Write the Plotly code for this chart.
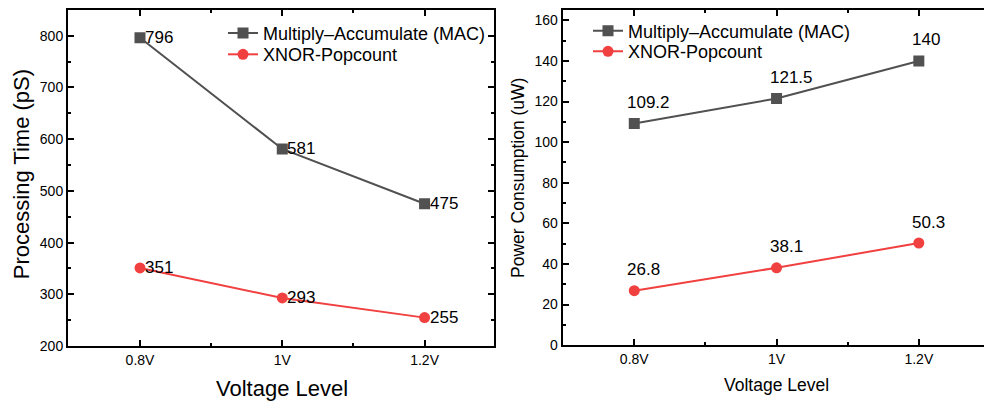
import plotly.graph_objects as go

# ---------------- data ----------------
voltage_levels = ["0.8V", "1V", "1.2V"]
series_names = ["Multiply\u2013Accumulate (MAC)", "XNOR-Popcount"]
time_mac = [796, 581, 475]
time_xnor = [351, 293, 255]
power_mac = [109.2, 121.5, 140]
power_xnor = [26.8, 38.1, 50.3]
time_ticks = [200, 300, 400, 500, 600, 700, 800]
power_ticks = [0, 20, 40, 60, 80, 100, 120, 140, 160]

# ---------------- style ----------------
W, H = 984, 408
GRAY = "#515151"
RED = "#F14040"
FONT = "Liberation Sans, Arial, sans-serif"

xpos = list(range(len(voltage_levels)))
minor_x = [i + 0.5 for i in xpos[:-1]]


def px(x):
    return x / W


def py(y):
    return 1 - y / H


fig = go.Figure()

# left panel
fig.add_trace(go.Scatter(x=xpos, y=time_mac, mode="lines+markers", name=series_names[0],
                         line=dict(color=GRAY, width=2),
                         marker=dict(symbol="square", size=11, color=GRAY),
                         xaxis="x", yaxis="y", legend="legend"))
fig.add_trace(go.Scatter(x=xpos, y=time_xnor, mode="lines+markers", name=series_names[1],
                         line=dict(color=RED, width=2),
                         marker=dict(symbol="circle", size=11, color=RED),
                         xaxis="x", yaxis="y", legend="legend2"))
# right panel
fig.add_trace(go.Scatter(x=xpos, y=power_mac, mode="lines+markers", name=series_names[0],
                         line=dict(color=GRAY, width=2),
                         marker=dict(symbol="square", size=11, color=GRAY),
                         xaxis="x2", yaxis="y2", legend="legend3"))
fig.add_trace(go.Scatter(x=xpos, y=power_xnor, mode="lines+markers", name=series_names[1],
                         line=dict(color=RED, width=2),
                         marker=dict(symbol="circle", size=11, color=RED),
                         xaxis="x2", yaxis="y2", legend="legend4"))

annotations = []
# data labels, left panel: right of marker
for vals in (time_mac, time_xnor):
    for i, v in zip(xpos, vals):
        annotations.append(dict(x=i, y=v, xref="x", yref="y", text=f"{v:g}",
                                showarrow=False, xanchor="left", yanchor="middle",
                                xshift=3, font=dict(size=17, color="black", family=FONT)))
# data labels, right panel: above marker
for vals in (power_mac, power_xnor):
    for i, v in zip(xpos, vals):
        annotations.append(dict(x=i, y=v, xref="x2", yref="y2", text=f"{v:g}",
                                showarrow=False, xanchor="left", yanchor="middle",
                                xshift=-9, yshift=21, font=dict(size=17, color="black", family=FONT)))

# axis titles
annotations += [
    dict(x=px(21.7), y=py(178), xref="paper", yref="paper", text="Processing Time (pS)",
         textangle=-90, showarrow=False, xanchor="center", yanchor="middle",
         font=dict(size=22, color="black", family=FONT)),
    dict(x=px(281.5), y=py(396), xref="paper", yref="paper", text="Voltage Level",
         showarrow=False, xanchor="center", yanchor="middle",
         font=dict(size=22, color="black", family=FONT)),
    dict(x=px(518), y=py(181.5), xref="paper", yref="paper", text="Power Consumption (uW)",
         textangle=-90, showarrow=False, xanchor="center", yanchor="middle",
         font=dict(size=17.5, color="black", family=FONT)),
    dict(x=px(776.3), y=py(393), xref="paper", yref="paper", text="Voltage Level",
         showarrow=False, xanchor="center", yanchor="middle",
         font=dict(size=17.5, color="black", family=FONT)),
]

axis_common = dict(showline=True, linewidth=2, linecolor="black", ticks="inside",
                   ticklen=6, tickwidth=2, tickcolor="black", showgrid=False,
                   zeroline=False, tickfont=dict(size=14, color="black", family=FONT))


def legend_at(x, y):
    return dict(x=px(x), y=py(y), xanchor="left", yanchor="middle",
                font=dict(size=18, color="black", family=FONT),
                bgcolor="rgba(0,0,0,0)", borderwidth=0)


fig.update_layout(
    width=W, height=H, autosize=False, margin=dict(l=0, r=0, t=0, b=0, pad=0),
    paper_bgcolor="white", plot_bgcolor="white",
    font=dict(family=FONT, color="black"),
    xaxis=dict(domain=[px(68), px(494)], range=[-0.506, 2.488], anchor="y",
               tickmode="array", tickvals=xpos, ticktext=voltage_levels, mirror="allticks",
               minor=dict(tickmode="array", tickvals=minor_x, ticks="inside", ticklen=3,
                          tickwidth=2, tickcolor="black"),
               **axis_common),
    yaxis=dict(domain=[py(353), py(10)], range=[200, 850], anchor="x",
               tickmode="array", tickvals=time_ticks, mirror="allticks",
               minor=dict(tickmode="linear", tick0=0, dtick=50, ticks="inside", ticklen=3,
                          tickwidth=2, tickcolor="black"),
               **axis_common),
    xaxis2=dict(domain=[px(562.7), 1], range=[-0.503, 2.458], anchor="y2",
                tickmode="array", tickvals=xpos, ticktext=voltage_levels, mirror="allticks",
                minor=dict(tickmode="array", tickvals=minor_x, ticks="inside", ticklen=3,
                           tickwidth=2, tickcolor="black"),
                **axis_common),
    yaxis2=dict(domain=[py(352), py(10)], range=[0, 165.2], anchor="x2",
                tickmode="array", tickvals=power_ticks, mirror=False,
                minor=dict(tickmode="linear", tick0=0, dtick=10, ticks="inside", ticklen=3,
                           tickwidth=2, tickcolor="black"),
                **axis_common),
    legend=legend_at(223, 34),
    legend2=legend_at(223, 55.7),
    legend3=legend_at(588, 31.7),
    legend4=legend_at(588, 52.7),
    annotations=annotations,
    showlegend=True,
)

fig.write_html("out.html", config={"responsive": False})
